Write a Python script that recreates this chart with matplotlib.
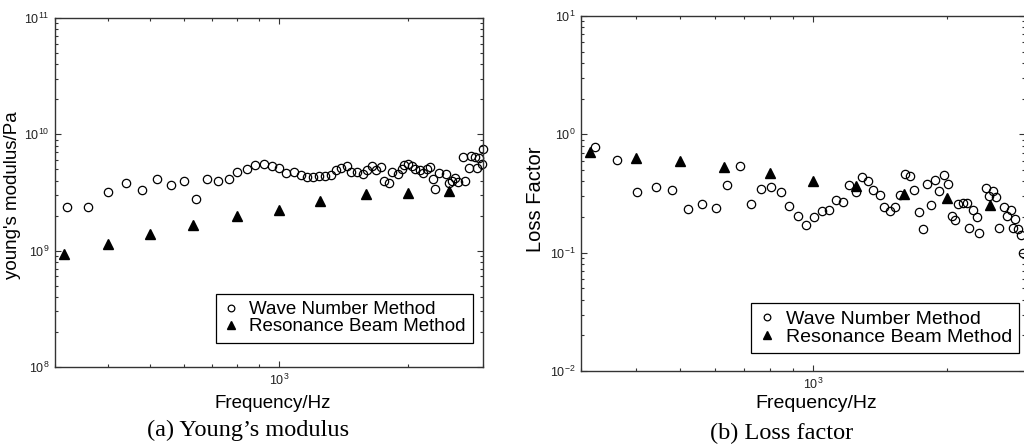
import matplotlib
matplotlib.use("Agg")
import matplotlib.pyplot as plt
from matplotlib.ticker import LogLocator, NullFormatter, LogFormatterSciNotation

plt.rcParams['font.family'] = ['Liberation Sans', 'DejaVu Sans']
plt.rcParams['mathtext.default'] = 'regular'

# ---------------- data ----------------
freq_res = [315, 400, 500, 630, 800, 1000, 1250, 1600, 2000, 2500]
E_res = [0.94e9, 1.15e9, 1.40e9, 1.65e9, 1.98e9, 2.23e9, 2.65e9, 3.04e9, 3.12e9, 3.23e9]
eta_res = [0.716, 0.637, 0.590, 0.525, 0.473, 0.403, 0.367, 0.313, 0.289, 0.254]

freq_wave_a = [320, 359, 400, 440, 480, 520, 560, 600, 640, 681,
               721, 763, 800, 842, 880, 924, 964, 1000, 1042, 1085,
               1124, 1161, 1204, 1241, 1280, 1327, 1358, 1400, 1444, 1478,
               1525, 1569, 1609, 1647, 1683, 1732, 1764, 1809, 1842, 1895,
               1937, 1961, 2008, 2052, 2081, 2143, 2178, 2218, 2250, 2291,
               2323, 2370, 2460, 2493, 2538, 2583, 2622, 2689, 2727, 2778,
               2812, 2878, 2905, 2941, 2985, 3000]
E_wave_e9 = [2.35, 2.35, 3.21, 3.78, 3.34, 4.15, 3.68, 3.94, 2.77, 4.15,
             3.95, 4.15, 4.70, 4.99, 5.42, 5.61, 5.39, 5.12, 4.67, 4.79,
             4.43, 4.28, 4.34, 4.41, 4.41, 4.43, 4.89, 5.12, 5.32, 4.79,
             4.79, 4.58, 4.89, 5.32, 4.89, 5.21, 3.95, 3.85, 4.72, 4.52,
             5.06, 5.50, 5.58, 5.32, 5.01, 4.89, 4.67, 5.06, 5.21, 4.15,
             3.41, 4.64, 4.58, 3.80, 4.01, 4.20, 3.88, 6.35, 3.95, 5.12,
             6.47, 6.35, 5.12, 6.22, 5.58, 7.50]

freq_wave_b = [322, 361, 402, 442, 482, 522, 561, 603, 641, 683,
               726, 764, 805, 847, 881, 925, 966, 1004, 1047, 1086,
               1126, 1165, 1207, 1249, 1288, 1329, 1364, 1412, 1446, 1489,
               1526, 1565, 1612, 1654, 1689, 1733, 1772, 1809, 1847, 1886,
               1925, 1970, 2012, 2053, 2090, 2124, 2173, 2218, 2245, 2296,
               2336, 2368, 2452, 2494, 2541, 2586, 2618, 2692, 2736, 2784,
               2812, 2849, 2898, 2931, 2962]
eta_wave = [0.774, 0.609, 0.325, 0.360, 0.338, 0.234, 0.256, 0.240, 0.375, 0.539,
            0.256, 0.347, 0.360, 0.327, 0.246, 0.205, 0.171, 0.201, 0.223, 0.228,
            0.280, 0.266, 0.370, 0.325, 0.432, 0.400, 0.336, 0.307, 0.241, 0.223,
            0.241, 0.309, 0.461, 0.447, 0.338, 0.219, 0.160, 0.384, 0.251, 0.411,
            0.334, 0.455, 0.380, 0.205, 0.189, 0.258, 0.261, 0.263, 0.163, 0.229,
            0.199, 0.146, 0.349, 0.303, 0.329, 0.293, 0.163, 0.245, 0.205, 0.229,
            0.163, 0.192, 0.158, 0.142, 0.099]

labels = ['Wave Number Method', 'Resonance Beam Method']
E_wave = [v * 1e9 for v in E_wave_e9]

# ---------------- figure ----------------
fig = plt.figure(figsize=(10.24, 4.47), dpi=100)
W, H = 1024.0, 447.0
ax_a = fig.add_axes([55 / W, 1 - 367 / H, 428 / W, 349 / H])
ax_b = fig.add_axes([581 / W, 1 - 371 / H, 444 / W, 355 / H])


def style(ax, ylim):
    ax.set_xscale('log')
    ax.set_yscale('log')
    ax.set_xlim(300, 3000)
    ax.set_ylim(*ylim)
    ax.xaxis.set_major_locator(LogLocator(base=10, numticks=10))
    ax.xaxis.set_minor_locator(LogLocator(base=10, subs=range(2, 10), numticks=10))
    ax.yaxis.set_major_locator(LogLocator(base=10, numticks=10))
    ax.yaxis.set_minor_locator(LogLocator(base=10, subs=range(2, 10), numticks=10))
    ax.xaxis.set_major_formatter(LogFormatterSciNotation())
    ax.xaxis.set_minor_formatter(NullFormatter())
    ax.yaxis.set_minor_formatter(NullFormatter())
    ax.tick_params(which='both', direction='in', top=True, right=True,
                   width=0.8, colors='#333333', labelcolor='#222222')
    ax.tick_params(which='major', length=4, labelsize=9, pad=4)
    ax.tick_params(which='minor', length=2.2)
    for s in ax.spines.values():
        s.set_linewidth(1.0)
        s.set_color('#333333')


def add_legend(ax, anchor, fs):
    leg = ax.legend(loc='lower right', bbox_to_anchor=anchor, borderaxespad=0,
                    fontsize=fs, frameon=True, fancybox=False, framealpha=1,
                    edgecolor='k', handlelength=0.9, handletextpad=0.5,
                    borderpad=0.38, labelspacing=0.0, markerscale=0.8)
    leg.get_frame().set_linewidth(0.9)
    return leg


# (a) Young's modulus
style(ax_a, (1e8, 1e11))
ax_a.plot(freq_wave_a, E_wave, 'o', mfc='none', mec='k', ms=6, mew=0.9,
          clip_on=False, label=labels[0])
ax_a.plot(freq_res, E_res, '^', color='k', ms=6.8, clip_on=False, label=labels[1])
ax_a.set_xlabel('Frequency/Hz', fontsize=13.5)
ax_a.xaxis.set_label_coords((273 - 55) / 428, (367 - 395) / 349)
ax_a.set_ylabel("young's modulus/Pa", fontsize=13.5)
ax_a.yaxis.set_label_coords((21 - 55) / 428, (367 - 195) / 349)
add_legend(ax_a, (0.976, 0.07), 13.5)

# (b) Loss factor
style(ax_b, (1e-2, 1e1))
ax_b.plot(freq_wave_b, eta_wave, 'o', mfc='none', mec='k', ms=6, mew=0.9,
          clip_on=False, label=labels[0])
ax_b.plot(freq_res, eta_res, '^', color='k', ms=6.8, clip_on=False, label=labels[1])
ax_b.set_xlabel('Frequency/Hz', fontsize=14)
ax_b.xaxis.set_label_coords((816 - 581) / 444, (371 - 395) / 355)
ax_b.set_ylabel('Loss Factor', fontsize=14.5)
ax_b.yaxis.set_label_coords((545 - 581) / 444, (371 - 199) / 355)
add_legend(ax_b, (0.987, 0.05), 14)

# captions
fig.text(248 / W, 1 - 430 / H, '(a) Young\u2019s modulus', ha='center', va='center',
         fontsize=17.5, family=['Liberation Serif', 'DejaVu Serif'])
fig.text(782 / W, 1 - 433 / H, '(b) Loss factor', ha='center', va='center',
         fontsize=17.5, family=['Liberation Serif', 'DejaVu Serif'])

fig.savefig('out.png', dpi=100)
